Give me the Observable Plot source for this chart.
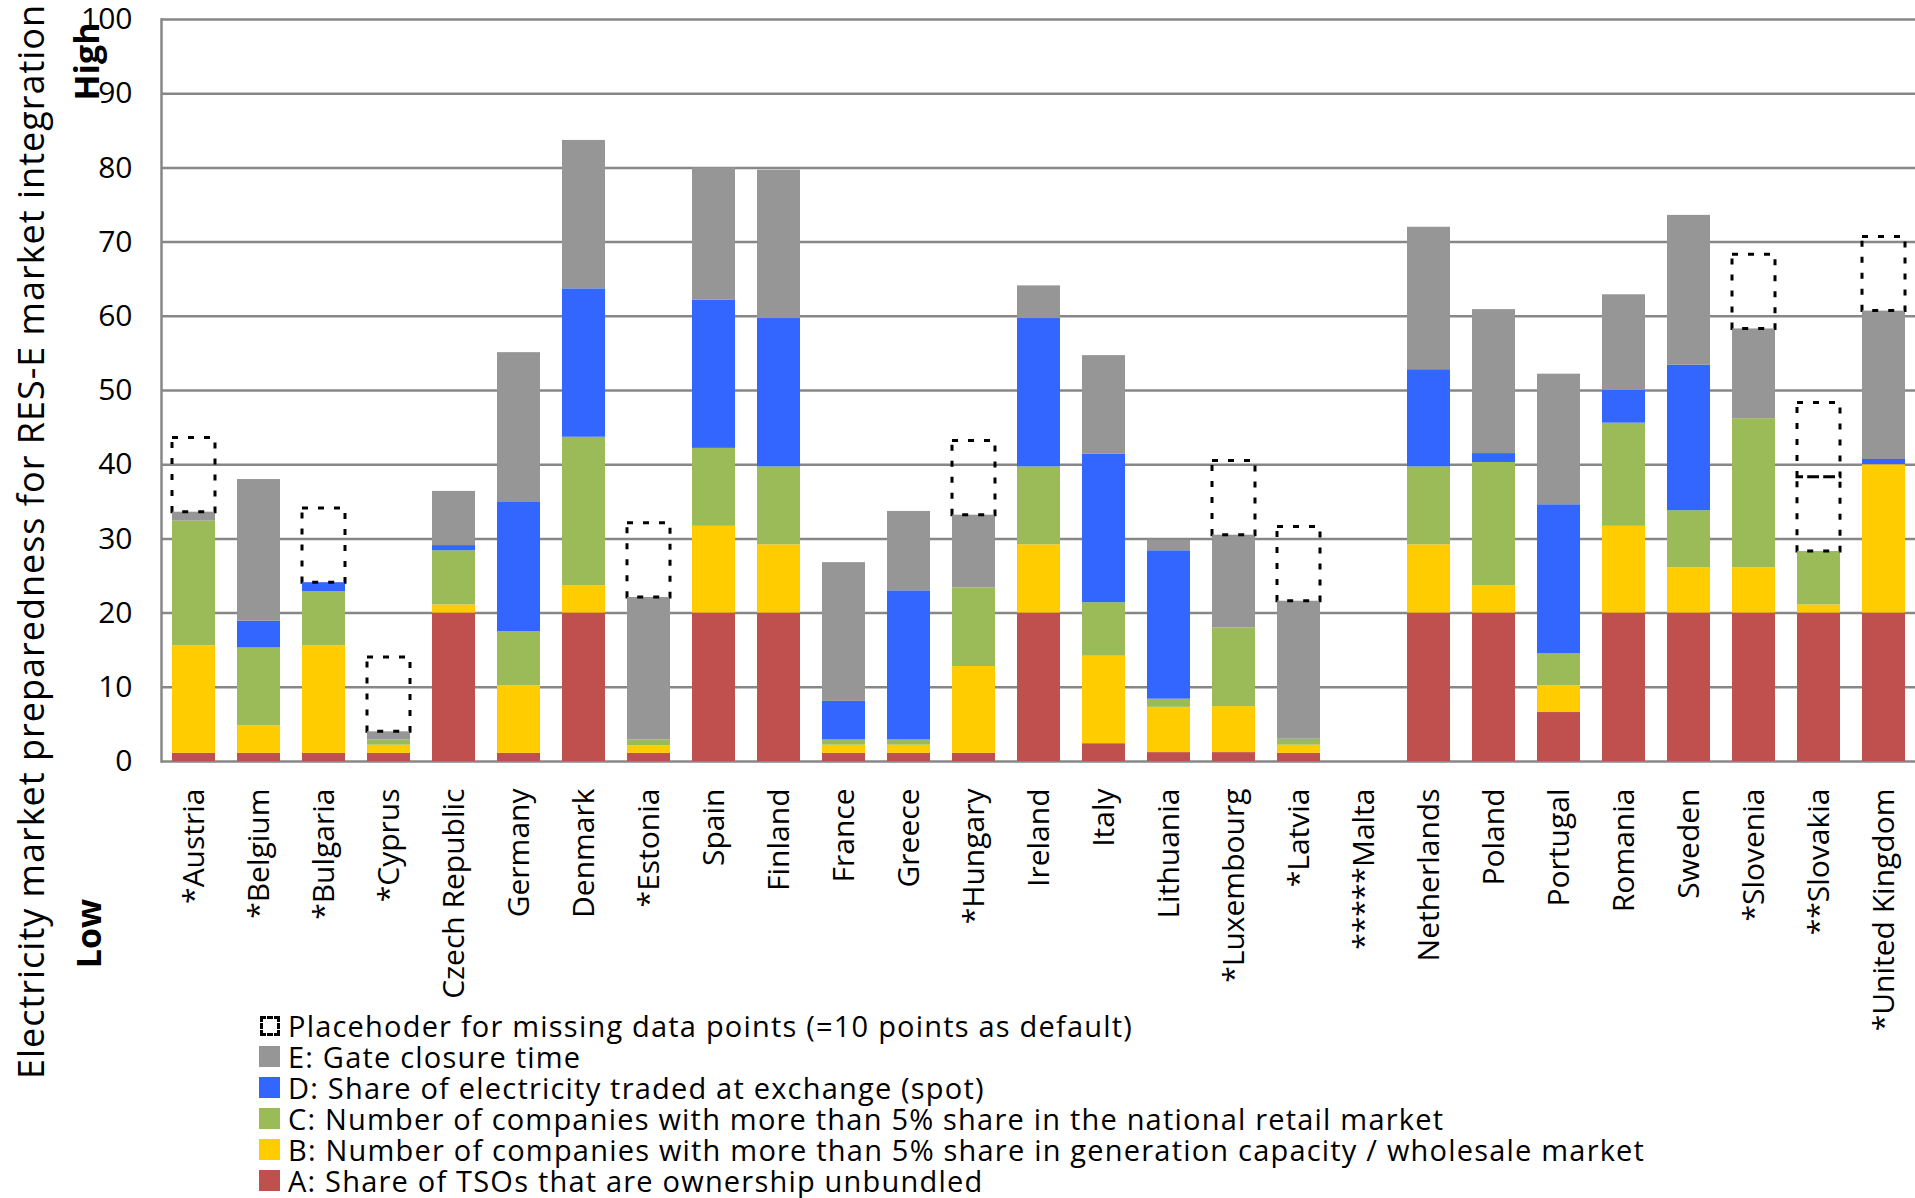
<!DOCTYPE html>
<html>
<head>
<meta charset="utf-8">
<script src="https://cdn.jsdelivr.net/npm/d3@7"></script>
<script src="https://cdn.jsdelivr.net/npm/@observablehq/plot@0.6"></script>
<style>
  html, body { margin: 0; padding: 0; background: #fff; }
  #chart { position: relative; width: 1915px; height: 1198px; overflow: hidden; font-family: "Open Sans", sans-serif; }
  #chart .ytitle { letter-spacing: 1px; }
  #legend { position: absolute; left: 259px; top: 1010px; font-size: 29px; line-height: 31px; letter-spacing: 1.2px; color: #000; }
  #legend .row { display: flex; align-items: center; height: 31px; white-space: nowrap; }
  #legend .sw { width: 21px; height: 21px; margin-right: 8px; box-sizing: border-box; flex: none; }
  #legend .sw.dashed { border: 3px dashed #000; width: 20px; height: 20px; margin-left: 1px; }
</style>
</head>
<body>
<div id="chart"></div>
<script>
// Member states (asterisks mark countries with missing data points)
const countries = [
  "*Austria", "*Belgium", "*Bulgaria", "*Cyprus", "Czech Republic", "Germany",
  "Denmark", "*Estonia", "Spain", "Finland", "France", "Greece", "*Hungary",
  "Ireland", "Italy", "Lithuania", "*Luxembourg", "*Latvia", "*****Malta",
  "Netherlands", "Poland", "Portugal", "Romania", "Sweden", "*Slovenia",
  "**Slovakia", "*United Kingdom"
];

// Indicator scores per country (each indicator up to 20 points)
const scoreA = [1.1, 1.1, 1.1, 1.1, 20, 1.1, 20, 1.1, 20, 20, 1.1, 1.1, 1.1, 20, 2.4, 1.2, 1.2, 1.1, 0, 20, 20, 6.6, 20, 20, 20, 20, 20];
const scoreB = [14.5, 3.7, 14.5, 1.1, 1.1, 9.1, 3.7, 1.0, 11.7, 9.2, 1.1, 1.1, 11.7, 9.2, 11.8, 6.1, 6.2, 1.1, 0, 9.2, 3.7, 3.6, 11.7, 6.1, 6.1, 1.1, 20];
const scoreC = [16.8, 10.5, 7.3, 0.7, 7.3, 7.3, 20, 0.8, 10.5, 10.5, 0.7, 0.7, 10.6, 10.5, 7.2, 1.1, 10.6, 0.8, 0, 10.5, 16.6, 4.3, 13.9, 7.7, 20.1, 7.2, 0];
const scoreD = [0, 3.6, 1.2, 0, 0.7, 17.5, 20, 0, 20, 20, 5.2, 20.1, 0, 20, 20, 20, 0, 0, 0, 13.1, 1.2, 20.1, 4.4, 19.6, 0, 0, 0.7];
const scoreE = [1.2, 19.1, 0, 1.1, 7.3, 20.1, 20, 19.2, 17.8, 20, 18.7, 10.7, 9.8, 4.4, 13.3, 1.4, 12.5, 18.6, 0, 19.2, 19.4, 17.6, 12.9, 20.2, 12.1, 0, 20];

// Number of missing data points per country, each shown as a 10-point placeholder
const missingPoints = [1, 0, 1, 1, 0, 0, 0, 1, 0, 0, 0, 0, 1, 0, 0, 0, 1, 1, 0, 0, 0, 0, 0, 0, 1, 2, 1];
const placeholderValue = 10;

const seriesKeys = ["A", "B", "C", "D", "E"];
const seriesColors = ["#C0504D", "#FFCC00", "#9BBB59", "#3366FF", "#969696"];
const seriesLabels = [
  "A: Share of TSOs that are ownership unbundled",
  "B: Number of companies with more than 5% share in generation capacity / wholesale market",
  "C: Number of companies with more than 5% share in the national retail market",
  "D: Share of electricity traded at exchange (spot)",
  "E: Gate closure time"
];
const placeholderLabel = "Placehoder for missing data points (=10 points as default)";
const yTicks = [0, 10, 20, 30, 40, 50, 60, 70, 80, 90, 100];
const yTitle = "Electricity market preparedness for RES-E market integration";
const highLabel = "High";
const lowLabel = "Low";

const seriesValues = [scoreA, scoreB, scoreC, scoreD, scoreE];

const rows = countries.flatMap((country, i) =>
  seriesKeys.map((series, j) => ({country, series, value: seriesValues[j][i]}))
);

const totals = countries.map((_, i) => d3.sum(seriesValues, (v) => v[i]));

const placeholderRows = countries.flatMap((country, i) =>
  d3.range(missingPoints[i]).map((k) => ({
    country,
    y1: totals[i] + k * placeholderValue,
    y2: totals[i] + (k + 1) * placeholderValue
  }))
);

// Rotated side labels, centred on their anchor point
const sideText = {frameAnchor: "top-left", rotate: -90, textAnchor: "middle", lineAnchor: "middle", fill: "#000"};

const chart = Plot.plot({
  width: 1915,
  height: 1198,
  marginTop: 19,
  marginBottom: 437,
  marginLeft: 161,
  marginRight: 0,
  style: {fontFamily: "Open Sans", fontSize: "30px", color: "#000", background: "transparent", overflow: "visible"},
  x: {domain: countries, range: [160.5, 1917], paddingInner: 0.34, paddingOuter: 0.17},
  y: {domain: [0, 100]},
  color: {domain: seriesKeys, range: seriesColors},
  marks: [
    Plot.ruleY(yTicks, {stroke: "#878787", strokeWidth: 2.5}),
    Plot.barY(rows, Plot.stackY({x: "country", y: "value", fill: "series", order: seriesKeys})),
    Plot.barY(placeholderRows, {
      x: "country", y1: "y1", y2: "y2",
      fill: "none", stroke: "#000", strokeWidth: 3, strokeDasharray: "6,10"
    }),
    Plot.frame({anchor: "left", stroke: "#878787", strokeWidth: 2.5}),
    Plot.axisY({ticks: yTicks, tickSize: 0, tickPadding: 29, fontSize: 30, label: null}),
    Plot.axisX({tickSize: 0, tickRotate: -90, tickPadding: 27, fontSize: 30, label: null}),
    Plot.text([yTitle], {...sideText, dx: -129, dy: 522, fontSize: 36, className: "ytitle"}),
    Plot.text([highLabel], {...sideText, dx: -73, dy: 42, fontSize: 34, fontWeight: "bold"}),
    Plot.text([lowLabel], {...sideText, dx: -71, dy: 914, fontSize: 34, fontWeight: "bold"})
  ]
});

const container = document.getElementById("chart");
container.appendChild(chart);

// Legend, listed top to bottom in reverse stacking order
const legend = document.createElement("div");
legend.id = "legend";
const addRow = (swatch, label) => {
  const row = document.createElement("div");
  row.className = "row";
  row.appendChild(swatch);
  const span = document.createElement("span");
  span.textContent = label;
  row.appendChild(span);
  legend.appendChild(row);
};
const dashed = document.createElement("div");
dashed.className = "sw dashed";
addRow(dashed, placeholderLabel);
for (let j = seriesKeys.length - 1; j >= 0; --j) {
  const sw = document.createElement("div");
  sw.className = "sw";
  sw.style.background = seriesColors[j];
  addRow(sw, seriesLabels[j]);
}
container.appendChild(legend);
</script>
</body>
</html>
